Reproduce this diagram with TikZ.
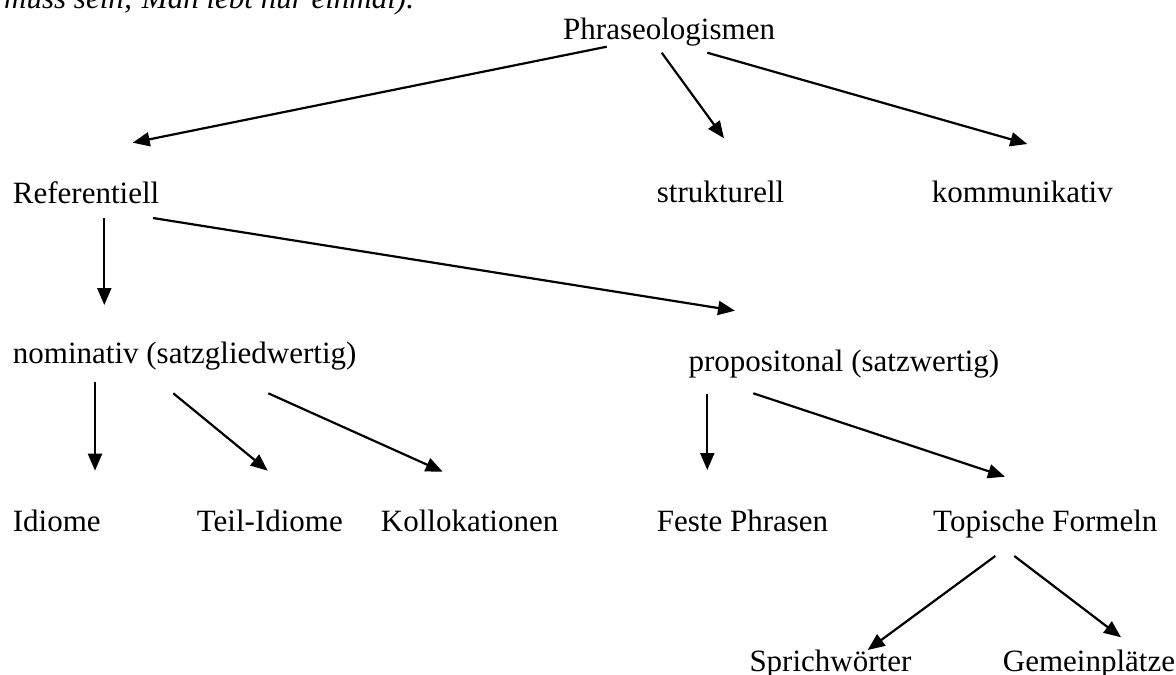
\documentclass[tikz,border=0pt]{standalone}
\usepackage{fontspec}
\setmainfont{Liberation Serif}
\usetikzlibrary{arrows.meta}
\tikzset{
  lbl/.style={anchor=base west, inner sep=0pt, font=\fontsize{31}{37}\selectfont},
  note/.style={anchor=base west, inner sep=0pt, font=\fontsize{31}{37}\selectfont\itshape},
  arr/.style={line width=2.2pt, -{Triangle[length=17pt,width=14pt]}}
}
\begin{document}
\begin{tikzpicture}[x=1pt,y=-1pt]
\useasboundingbox (0,0) rectangle (1176,675);
\clip (0,0) rectangle (1176,675);
\node[note] (intro) at (4,8) {muss sein; Man lebt nur einmal).};
% labels
\node[lbl] (phr)  at (563,39.3)    {Phraseologismen};
\node[lbl] (ref)  at (12.7,203)    {Referentiell};
\node[lbl] (str)  at (656.7,202.7) {strukturell};
\node[lbl] (kom)  at (931.7,202.7) {kommunikativ};
\node[lbl] (nom)  at (12.7,363.3)  {nominativ (satzgliedwertig)};
\node[lbl] (prop) at (688.3,371.7) {propositonal (satzwertig)};
\node[lbl] (idi)  at (12.7,531.7)  {Idiome};
\node[lbl] (teil) at (196.7,531.7) {Teil-Idiome};
\node[lbl] (koll) at (380.7,531.7) {Kollokationen};
\node[lbl] (fest) at (656.7,531.7) {Feste Phrasen};
\node[lbl] (top)  at (933,531.7)   {Topische Formeln};
\node[lbl] (spr)  at (749.3,671.7) {Sprichwörter};
\node[lbl] (gem)  at (1002.7,671.7){Gemeinplätze};
% arrow end points
\coordinate (phr-ref-s) at (606.7,46.7);  \coordinate (phr-ref-e) at (132.7,142.7);
\coordinate (phr-str-s) at (661.7,52.7);  \coordinate (phr-str-e) at (724,138.3);
\coordinate (phr-kom-s) at (707.3,52.7);  \coordinate (phr-kom-e) at (1027.3,144);
\coordinate (ref-nom-s) at (104.3,218);   \coordinate (ref-nom-e) at (104.3,305);
\coordinate (ref-prop-s) at (153,218);    \coordinate (ref-prop-e) at (735,310.7);
\coordinate (nom-idi-s) at (95,381.7);    \coordinate (nom-idi-e) at (95,470.7);
\coordinate (nom-teil-s) at (173.3,393.3);\coordinate (nom-teil-e) at (267.7,470.7);
\coordinate (nom-koll-s) at (268.3,393.3);\coordinate (nom-koll-e) at (442.7,471.7);
\coordinate (prop-fest-s) at (707.3,394); \coordinate (prop-fest-e) at (707.3,470);
\coordinate (prop-top-s) at (753.3,393.3);\coordinate (prop-top-e) at (1005,476.7);
\coordinate (top-spr-s) at (995.3,556);   \coordinate (top-spr-e) at (867.7,650);
\coordinate (top-gem-s) at (1014.3,556);  \coordinate (top-gem-e) at (1121,637.3);
% connectors
\draw[arr] (phr-ref-s) -- (phr-ref-e);
\draw[arr] (phr-str-s) -- (phr-str-e);
\draw[arr] (phr-kom-s) -- (phr-kom-e);
\draw[arr] (ref-nom-s) -- (ref-nom-e);
\draw[arr] (ref-prop-s) -- (ref-prop-e);
\draw[arr] (nom-idi-s) -- (nom-idi-e);
\draw[arr] (nom-teil-s) -- (nom-teil-e);
\draw[arr] (nom-koll-s) -- (nom-koll-e);
\draw[arr] (prop-fest-s) -- (prop-fest-e);
\draw[arr] (prop-top-s) -- (prop-top-e);
\draw[arr] (top-spr-s) -- (top-spr-e);
\draw[arr] (top-gem-s) -- (top-gem-e);
\end{tikzpicture}
\end{document}
